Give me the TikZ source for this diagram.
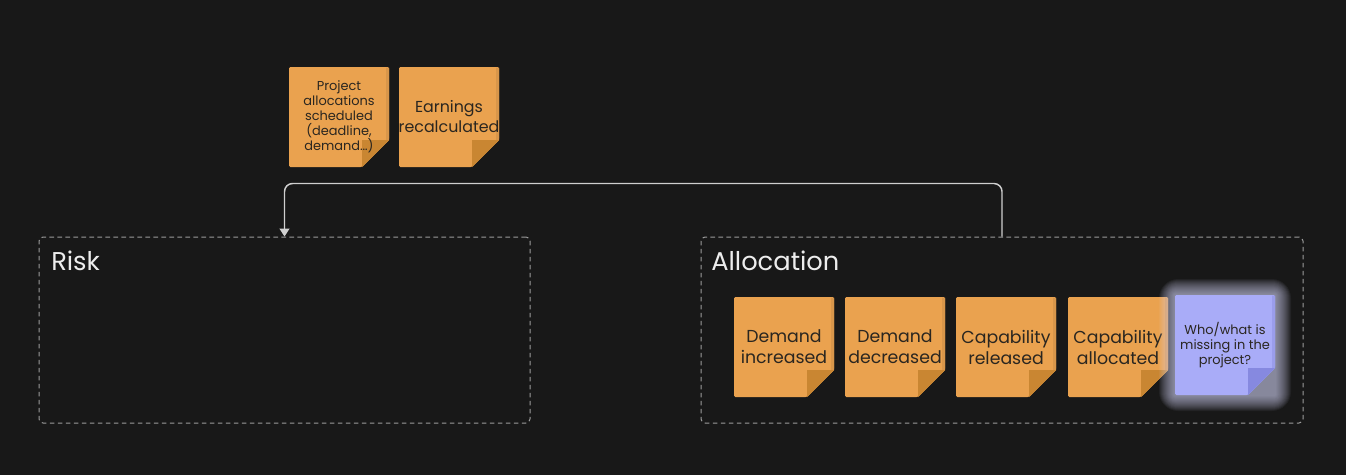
\documentclass[tikz,border=0pt]{standalone}
\usepackage{fontspec}
\setmainfont{Poppins}
\usetikzlibrary{arrows.meta}
\definecolor{bg}{HTML}{181818}
\definecolor{notebody}{HTML}{EAA24F}
\definecolor{noteflap}{HTML}{C98632}
\definecolor{noteedge}{HTML}{D8964A}
\definecolor{lilac}{HTML}{A9ACF8}
\definecolor{lilacflap}{HTML}{8689E0}
\definecolor{lilacedge}{HTML}{9A9DEB}
\definecolor{glowc}{HTML}{DCDDFF}
\definecolor{zoneline}{HTML}{9C9C9C}
\definecolor{wire}{HTML}{CFCFCF}
\definecolor{ink}{HTML}{2A2620}
\definecolor{labelc}{HTML}{EDEDED}
\tikzset{
  zone/.style={draw=zoneline, line width=0.75pt, dash pattern=on 3.4pt off 2.6pt,
    rounded corners=3pt, minimum height=139.5pt, inner sep=0pt},
  zonelabel/.style={anchor=base west, text=labelc, inner sep=0pt,
    font=\fontsize{19.3}{22}\selectfont},
  notetext/.style={align=center, text=ink, inner sep=0pt},
  bigtxt/.style={font=\fontsize{13}{15.75}\selectfont},
  midtxt/.style={font=\fontsize{11.9}{15}\selectfont},
  smalltxt/.style={font=\fontsize{9.7}{11.25}\selectfont},
  conn/.style={draw=wire, line width=1.1pt, rounded corners=6pt,
    -{Triangle[width=7.5pt,length=6pt]}},
}
% #1 name, #2 left, #3 top, #4 body, #5 edge, #6 flap, #7 text style, #8 text
\newcommand\stickynote[8]{%
  \begin{scope}[shift={(#2,#3)}]
    \fill[#4, rounded corners=1pt] (0,0) -- (100,0) -- (100,73) -- (73,100) -- (0,100) -- cycle;
    \fill[#5] (97,0.5) -- (100,0.5) -- (100,73) -- (97,76) -- cycle;
    \fill[#6] (73,73) -- (100,73) -- (73,100) -- cycle;
    \node[notetext, #7] (#1) at (50,50) {#8};
  \end{scope}}
\begin{document}
\begin{tikzpicture}[x=0.75pt,y=-0.75pt]
  \fill[bg] (0,0) rectangle (1346,475);
  \useasboundingbox (0,0) rectangle (1346,475);

  % zones
  \node[zone, minimum width=368.25pt] (risk) at (284.5,330) {};
  \node[zone, minimum width=451.5pt] (alloc) at (1002,330) {};
  \node[zonelabel] (risklbl) at (51,270) {Risk};
  \node[zonelabel] (alloclbl) at (711,270) {Allocation};

  % connector
  \draw[conn] (alloc.north) -- ++(0,-53) -| (risk.north);

  % top notes
  \stickynote{proj}{289}{67}{notebody}{noteedge}{noteflap}{smalltxt}{Project\\allocations\\scheduled\\(deadline,\\demand…)}
  \stickynote{earn}{399}{67}{notebody}{noteedge}{noteflap}{midtxt}{Earnings\\recalculated}

  % allocation notes
  \stickynote{dinc}{734}{297}{notebody}{noteedge}{noteflap}{bigtxt}{Demand\\increased}
  \stickynote{ddec}{845}{297}{notebody}{noteedge}{noteflap}{bigtxt}{Demand\\decreased}
  \stickynote{crel}{956}{297}{notebody}{noteedge}{noteflap}{bigtxt}{Capability\\released}
  \stickynote{call}{1068}{297}{notebody}{noteedge}{noteflap}{bigtxt}{Capability\\allocated}

  % glow behind question note
  \foreach \g in {16,15,...,1} {
    \fill[glowc, opacity=0.055, rounded corners=\g*0.9pt]
      (1175-\g,295-\g) rectangle (1275+\g,395+\g);
  }
  \stickynote{who}{1175}{295}{lilac}{lilacedge}{lilacflap}{smalltxt}{Who/what is\\missing in the\\project?}
\end{tikzpicture}
\end{document}
